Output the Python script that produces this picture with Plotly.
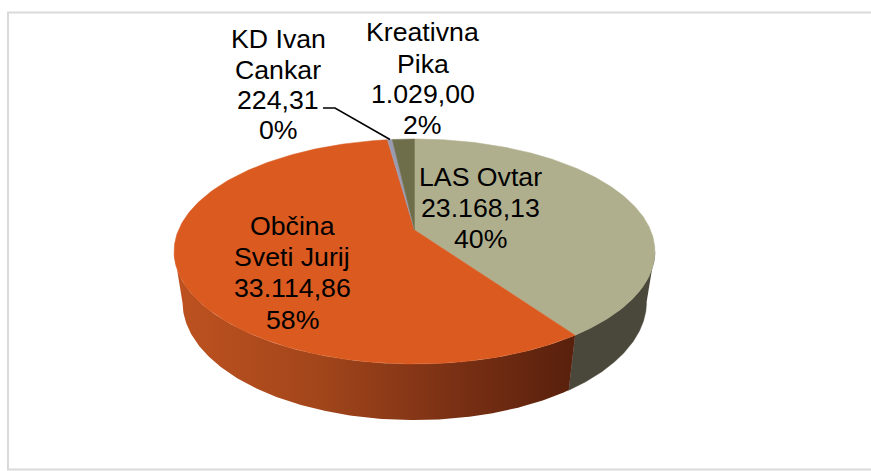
import numpy as np
import plotly.graph_objects as go

# ---- data ----
categories = ["LAS Ovtar", "Občina Sveti Jurij", "KD Ivan Cankar", "Kreativna Pika"]
values = [23168.13, 33114.86, 224.31, 1029.00]
value_labels = ["23.168,13", "33.114,86", "224,31", "1.029,00"]
percent_labels = ["40%", "58%", "0%", "2%"]
name_lines = [["LAS Ovtar"], ["Občina", "Sveti Jurij"], ["KD Ivan", "Cankar"], ["Kreativna", "Pika"]]

# ---- styling ----
top_colors = ["#B0AF8D", "#DA5A20", "#9A9BB0", "#6F6E4B"]
wall_colors = ["#4A483A", "#5A200C", "#5A5B68", "#45442E"]
orange_wall_scale = [[0, "#BE5220"], [0.35, "#A3461B"], [0.7, "#7A3014"], [1, "#58200C"]]
W, H = 871, 471
CX, CY, A, B, K = 414.5, 230.0, 236.0, 108.4, 0.191
DROP, M = 52.0, 0.035
WALL_RANGE = (101, 259)
label_centers = [(480, [177, 208, 239]), (292, [226, 257, 288, 320]),
                 (278, [39, 70, 100, 130]), (422.5, [32, 64, 94, 125])]
leader = ([323, 335, 390], [108, 108, 139.5])


def project(theta_deg, radius=1.0, depth=0.0):
    t = np.radians(theta_deg)
    u, v = radius * np.sin(t), radius * np.cos(t)
    w = 1 + K * v + M * depth
    return CX + A * u / w, CY - (B * v - DROP * depth) / w


total = sum(values)
edges = np.concatenate([[0], np.cumsum(values) / total * 360])
fig = go.Figure()


def poly(x, y, **kw):
    fig.add_trace(go.Scatter(x=x, y=y, mode="lines", fill="toself", hoverinfo="skip",
                             showlegend=False, **kw))


# side walls (front half only)
for i in range(2):
    lo2, hi2 = max(edges[i], WALL_RANGE[0]), min(edges[i + 1], WALL_RANGE[1])
    th = np.linspace(lo2, hi2, 160)
    xt, yt = project(th)
    xb, yb = project(th, depth=1.0)
    x = np.concatenate([xt, xb[::-1]])
    y = np.concatenate([yt, yb[::-1]])
    if i == 1:
        poly(x, y, line=dict(width=0, color="#A3461B"),
             fillgradient=dict(type="horizontal", colorscale=orange_wall_scale,
                               start=float(x.min()), stop=float(x.max())))
    else:
        poly(x, y, line=dict(width=0.5, color=wall_colors[i]), fillcolor=wall_colors[i])

# top faces
for i in range(len(values)):
    th = np.linspace(edges[i], edges[i + 1], 240)
    xt, yt = project(th)
    x0, y0 = project(0, radius=0)
    poly(np.concatenate([[x0], xt, [x0]]), np.concatenate([[y0], yt, [y0]]),
         line=dict(width=0.5, color=top_colors[i]), fillcolor=top_colors[i])

# leader line of the small slice
fig.add_trace(go.Scatter(x=leader[0], y=leader[1], mode="lines", hoverinfo="skip", showlegend=False,
                         line=dict(color="#000000", width=1.5)))

# labels, line by line
for i in range(len(values)):
    lines = name_lines[i] + [value_labels[i], percent_labels[i]]
    cx, ys = label_centers[i]
    for txt, yy in zip(lines, ys):
        fig.add_annotation(x=cx, y=yy, text=txt, showarrow=False, xref="x", yref="y",
                           xanchor="center", yanchor="middle",
                           font=dict(family="Liberation Sans, Arial, sans-serif", size=26.7, color="#000000"))

fig.update_layout(
    width=W, height=H, margin=dict(l=0, r=0, t=0, b=0), autosize=False,
    paper_bgcolor="#FFFFFF", plot_bgcolor="#FFFFFF", showlegend=False,
    xaxis=dict(range=[0, W], visible=False, fixedrange=True, domain=[0, 1]),
    yaxis=dict(range=[H, 0], visible=False, fixedrange=True, domain=[0, 1]),
    shapes=[dict(type="rect", xref="x", yref="y", x0=8, y0=12.5, x1=W + 3, y1=469.5,
                 line=dict(color="#D9D9D9", width=2), layer="below")],
)
fig.write_html("out.html", config=dict(displayModeBar=False),
               post_script="document.body.style.margin='0';document.documentElement.style.overflow='hidden';")
